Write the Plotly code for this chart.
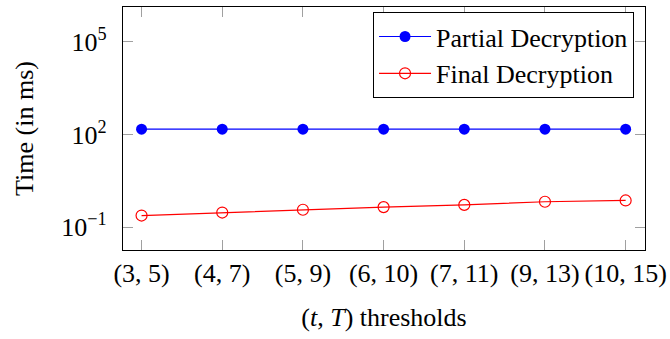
import plotly.graph_objects as go

categories = ["(3, 5)", "(4, 7)", "(5, 9)", "(6, 10)", "(7, 11)", "(9, 13)", "(10, 15)"]
partial_decryption = [150, 150, 150, 150, 150, 150, 150]
final_decryption = [0.24, 0.30, 0.37, 0.45, 0.53, 0.67, 0.74]
ytick_vals = [0.1, 100, 100000]
ytick_text = ["10<sup>−1</sup>", "10<sup>2</sup>", "10<sup>5</sup>"]

FONT = "Liberation Serif"
xs = list(range(len(categories)))

fig = go.Figure()
fig.add_trace(go.Scatter(
    x=xs, y=partial_decryption, name="Partial Decryption", mode="lines+markers",
    line=dict(color="#0000ff", width=1.2),
    marker=dict(color="#0000ff", size=11, symbol="circle"),
))
fig.add_trace(go.Scatter(
    x=xs, y=final_decryption, name="Final Decryption", mode="lines+markers",
    line=dict(color="#ff0000", width=1.2),
    marker=dict(color="#ff0000", size=11, symbol="circle-open", line=dict(width=1.2)),
))

fig.update_layout(
    width=670, height=339,
    margin=dict(l=123, r=25, t=7, b=89, autoexpand=False),
    paper_bgcolor="white", plot_bgcolor="white",
    font=dict(family=FONT, size=26, color="black"),
    showlegend=True,
    legend=dict(
        x=0.979, y=0.979, xanchor="right", yanchor="top",
        bordercolor="black", borderwidth=1, bgcolor="white",
        font=dict(family=FONT, size=26, color="black"),
        tracegroupgap=0, itemwidth=52,
    ),
    xaxis=dict(
        range=[-0.23, 6.24], automargin=False,
        tickmode="array", tickvals=xs, ticktext=categories,
        showgrid=False, zeroline=False,
        showline=True, linecolor="black", linewidth=1.2, mirror="ticks",
        ticks="inside", ticklen=10, tickcolor="#a0a0a0", tickwidth=1.2,
        ticklabelstandoff=0,
        tickfont=dict(family=FONT, size=26),
        title=dict(text="(<i>t</i>, <i>T</i>) thresholds", font=dict(family=FONT, size=26), standoff=20),
    ),
    yaxis=dict(
        type="log", range=[-1.735, 6.13], automargin=False,
        tickmode="array", tickvals=ytick_vals, ticktext=ytick_text,
        showgrid=False, zeroline=False,
        showline=True, linecolor="black", linewidth=1.2, mirror="ticks",
        ticks="inside", ticklen=10, tickcolor="#a0a0a0", tickwidth=1.2,
        ticklabelstandoff=10,
        tickfont=dict(family=FONT, size=26),
        title=dict(text="Time (in ms)", font=dict(family=FONT, size=26), standoff=20),
    ),
)

fig.write_html("out.html", config={"displayModeBar": False},
               post_script="document.body.style.margin='0';")
